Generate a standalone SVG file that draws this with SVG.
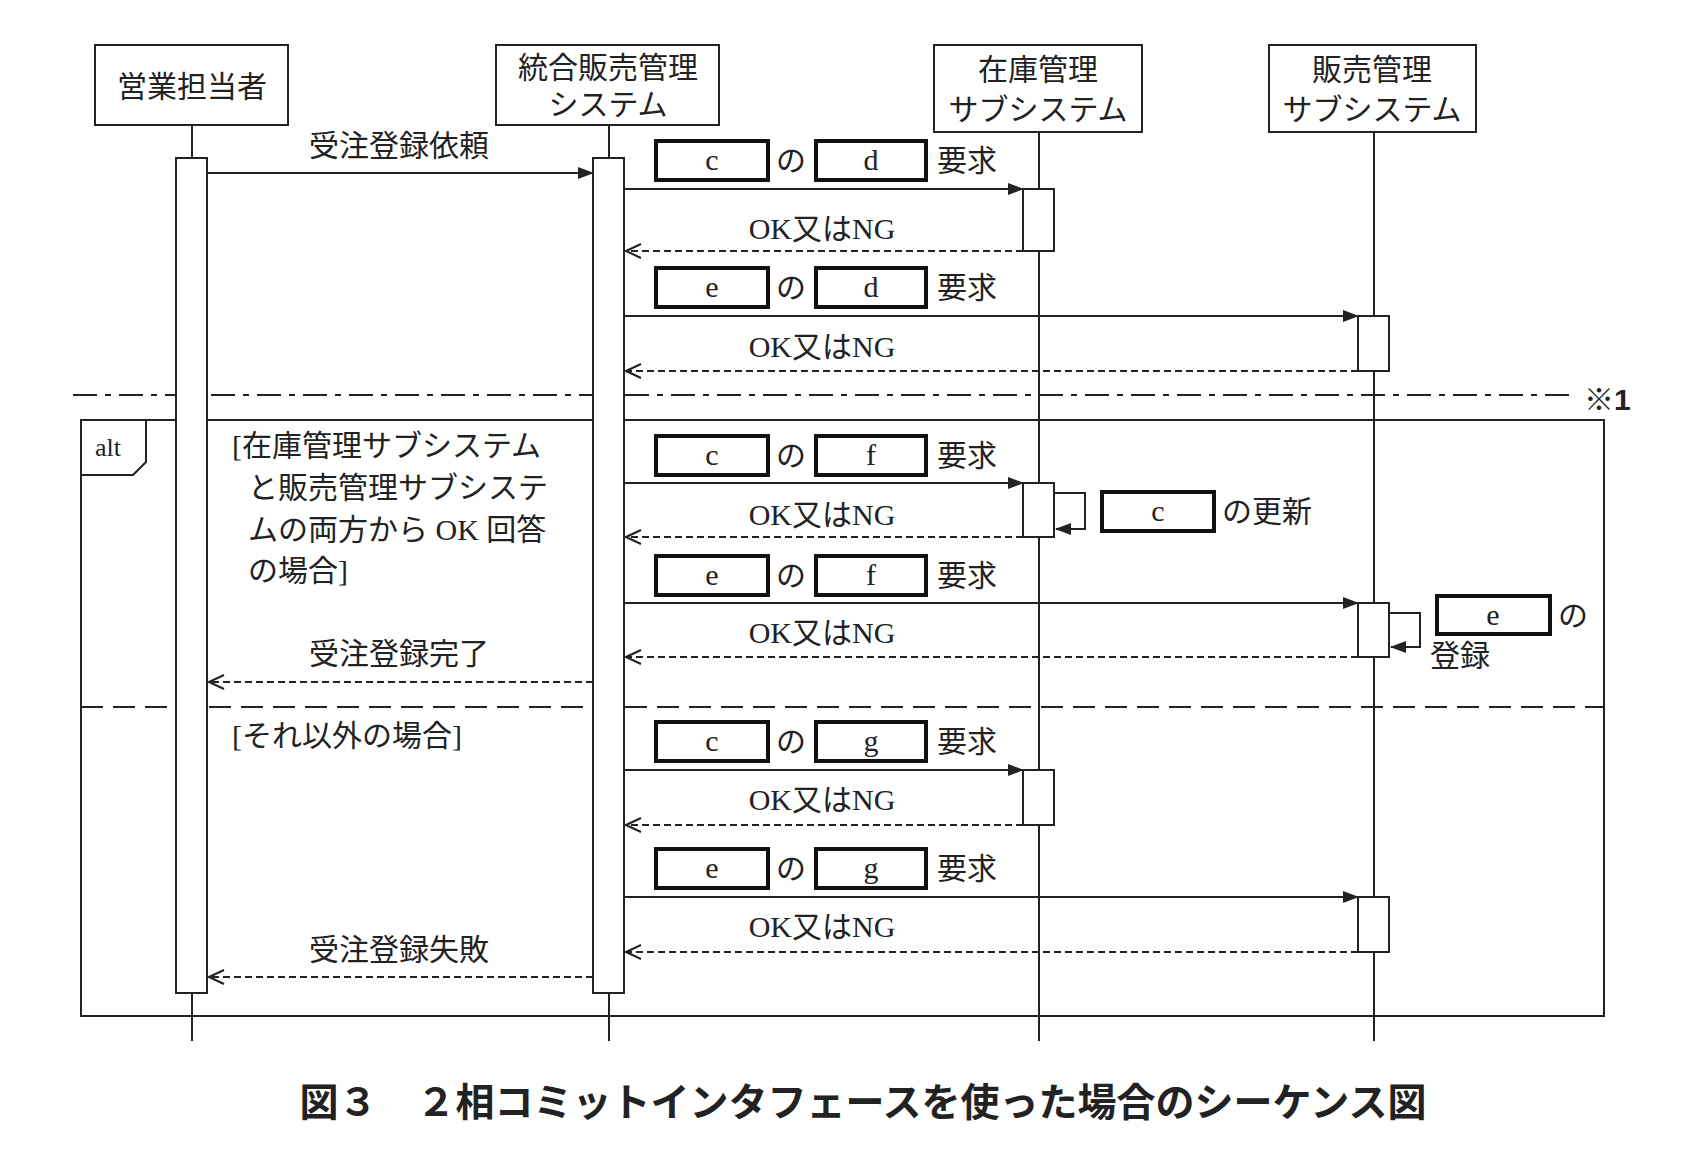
<svg xmlns="http://www.w3.org/2000/svg" width="1692" height="1158" viewBox="0 0 1692 1158">
<style>
.t{font-family:"Liberation Serif","Noto Sans CJK JP",serif;font-size:30px;fill:#222}
.c{text-anchor:middle}
.b{fill:#fff;stroke:#222;stroke-width:2}
.k{fill:#fff;stroke:#111;stroke-width:4}
.l{stroke:#222;stroke-width:2;fill:none}
.m{stroke:#222;stroke-width:2;fill:none;marker-end:url(#f)}
.r{stroke:#222;stroke-width:2;fill:none;stroke-dasharray:7,4;marker-end:url(#o)}
</style>
<defs>
<marker id="f" markerWidth="16" markerHeight="12" refX="15" refY="6" orient="auto" markerUnits="userSpaceOnUse"><path d="M0,0 L16,6 L0,12 z" fill="#222"/></marker>
<marker id="o" markerWidth="18" markerHeight="18" refX="16" refY="8" orient="auto" markerUnits="userSpaceOnUse"><path d="M1,1 L16,8 L1,15" fill="none" stroke="#222" stroke-width="2"/></marker>
</defs>
<rect width="1692" height="1158" fill="#fff"/>
<g id="lifelines">
<line class="l" x1="192" y1="125" x2="192" y2="1041"/>
<line class="l" x1="609" y1="125" x2="609" y2="1041"/>
<line class="l" x1="1039" y1="132" x2="1039" y2="1041"/>
<line class="l" x1="1374" y1="132" x2="1374" y2="1041"/>
</g>
<g id="frame">
<line x1="73" y1="395" x2="1570" y2="395" stroke="#222" stroke-width="2" stroke-dasharray="24,8,6,8"/>
<text class="t" x="1584" y="410" style="font-family:'Liberation Sans','Noto Sans CJK JP',sans-serif;font-weight:bold">※1</text>
<rect x="81" y="420" width="1523" height="596" fill="none" stroke="#222" stroke-width="2"/>
<path class="l" d="M81,475 H133 L146,462 V420"/>
<text class="t" x="95" y="456" style="font-size:26px">alt</text>
<line x1="81" y1="707" x2="1604" y2="707" stroke="#222" stroke-width="2" stroke-dasharray="22,10"/>
<text class="t" x="232" y="456">[在庫管理サブシステム</text>
<text class="t" x="248" y="498">と販売管理サブシステ</text>
<text class="t" x="248" y="540">ムの両方から OK 回答</text>
<text class="t" x="248" y="581">の場合]</text>
<text class="t" x="232" y="746">[それ以外の場合]</text>
</g>
<g id="n1"><rect class="b" x="95" y="45" width="193" height="80"/><text class="t c" x="192" y="97">営業担当者</text></g>
<g id="n2"><rect class="b" x="496" y="45" width="223" height="80"/><text class="t c" x="608" y="78">統合販売管理</text><text class="t c" x="608" y="115">システム</text></g>
<g id="n3"><rect class="b" x="934" y="45" width="208" height="87"/><text class="t c" x="1038" y="80">在庫管理</text><text class="t c" x="1038" y="120">サブシステム</text></g>
<g id="n4"><rect class="b" x="1269" y="45" width="207" height="87"/><text class="t c" x="1372" y="80">販売管理</text><text class="t c" x="1372" y="120">サブシステム</text></g>
<g id="activations">
<rect class="b" x="176" y="158" width="31" height="835"/>
<rect class="b" x="593" y="158" width="31" height="835"/>
<rect class="b" x="1023" y="189" width="31" height="62"/>
<rect class="b" x="1358" y="316" width="31" height="55"/>
<rect class="b" x="1023" y="483" width="31" height="54"/>
<rect class="b" x="1358" y="603" width="31" height="54"/>
<rect class="b" x="1023" y="770" width="31" height="55"/>
<rect class="b" x="1358" y="897" width="31" height="55"/>
</g>
<g id="connectors">
<line class="m" x1="207" y1="173" x2="593" y2="173"/>
<line class="m" x1="624" y1="189" x2="1023" y2="189"/>
<line class="r" x1="1023" y1="251" x2="626" y2="251"/>
<line class="m" x1="624" y1="316" x2="1358" y2="316"/>
<line class="r" x1="1358" y1="371" x2="626" y2="371"/>
<line class="m" x1="624" y1="483" x2="1023" y2="483"/>
<path class="m" d="M1054,493 H1085 V529 H1056"/>
<line class="r" x1="1023" y1="537" x2="626" y2="537"/>
<line class="m" x1="624" y1="603" x2="1358" y2="603"/>
<path class="m" d="M1389,613 H1420 V647 H1391"/>
<line class="r" x1="1358" y1="657" x2="626" y2="657"/>
<line class="r" x1="593" y1="682" x2="209" y2="682"/>
<line class="m" x1="624" y1="770" x2="1023" y2="770"/>
<line class="r" x1="1023" y1="825" x2="626" y2="825"/>
<line class="m" x1="624" y1="897" x2="1358" y2="897"/>
<line class="r" x1="1358" y1="952" x2="626" y2="952"/>
<line class="r" x1="593" y1="977" x2="209" y2="977"/>
</g>
<g id="labels">
<text class="t c" x="399" y="156">受注登録依頼</text>
<text class="t c" x="399" y="664">受注登録完了</text>
<text class="t c" x="399" y="960">受注登録失敗</text>
<text class="t c" x="822" y="239">OK又はNG</text>
<text class="t c" x="822" y="357">OK又はNG</text>
<text class="t c" x="822" y="525">OK又はNG</text>
<text class="t c" x="822" y="643">OK又はNG</text>
<text class="t c" x="822" y="810">OK又はNG</text>
<text class="t c" x="822" y="937">OK又はNG</text>
</g>
<g id="req1"><rect class="k" x="656" y="141" width="112" height="39"/><text class="t c" x="712" y="170">c</text><text class="t" x="776" y="171">の</text><rect class="k" x="816" y="141" width="110" height="39"/><text class="t c" x="871" y="170">d</text><text class="t" x="937" y="171">要求</text></g>
<g id="req2"><rect class="k" x="656" y="268" width="112" height="39"/><text class="t c" x="712" y="297">e</text><text class="t" x="776" y="298">の</text><rect class="k" x="816" y="268" width="110" height="39"/><text class="t c" x="871" y="297">d</text><text class="t" x="937" y="298">要求</text></g>
<g id="req3"><rect class="k" x="656" y="436" width="112" height="39"/><text class="t c" x="712" y="465">c</text><text class="t" x="776" y="466">の</text><rect class="k" x="816" y="436" width="110" height="39"/><text class="t c" x="871" y="465">f</text><text class="t" x="937" y="466">要求</text></g>
<g id="req4"><rect class="k" x="656" y="556" width="112" height="39"/><text class="t c" x="712" y="585">e</text><text class="t" x="776" y="586">の</text><rect class="k" x="816" y="556" width="110" height="39"/><text class="t c" x="871" y="585">f</text><text class="t" x="937" y="586">要求</text></g>
<g id="req5"><rect class="k" x="656" y="722" width="112" height="39"/><text class="t c" x="712" y="751">c</text><text class="t" x="776" y="752">の</text><rect class="k" x="816" y="722" width="110" height="39"/><text class="t c" x="871" y="751">g</text><text class="t" x="937" y="752">要求</text></g>
<g id="req6"><rect class="k" x="656" y="849" width="112" height="39"/><text class="t c" x="712" y="878">e</text><text class="t" x="776" y="879">の</text><rect class="k" x="816" y="849" width="110" height="39"/><text class="t c" x="871" y="878">g</text><text class="t" x="937" y="879">要求</text></g>
<g id="upd1"><rect class="k" x="1102" y="492" width="112" height="39"/><text class="t c" x="1158" y="521">c</text><text class="t" x="1222" y="522">の更新</text></g>
<g id="upd2"><rect class="k" x="1437" y="596" width="113" height="38"/><text class="t c" x="1493" y="625">e</text><text class="t" x="1558" y="626">の</text><text class="t" x="1430" y="666">登録</text></g>
<text x="863" y="1116" text-anchor="middle" style="font-family:'Liberation Sans','Noto Sans CJK JP',sans-serif;font-size:39px;font-weight:bold;fill:#222">図３　２相コミットインタフェースを使った場合のシーケンス図</text>
</svg>
